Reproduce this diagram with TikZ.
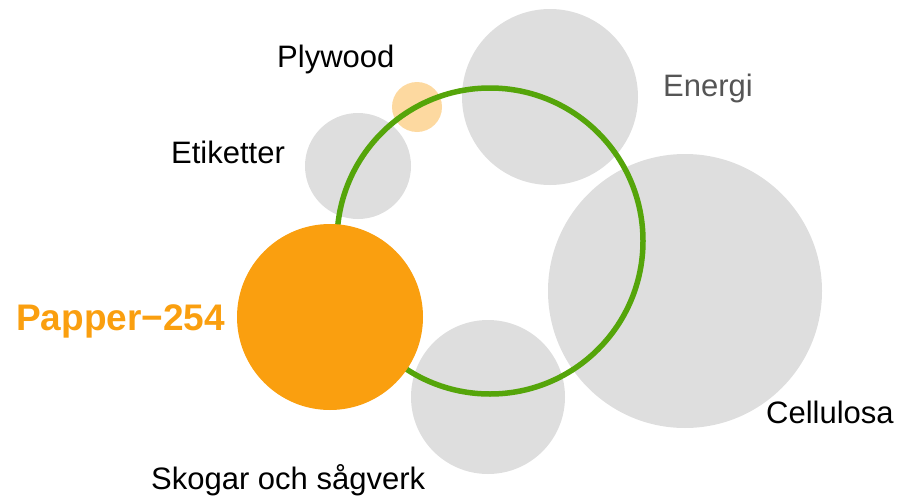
\documentclass[tikz,border=0pt]{standalone}
\usepackage{fontspec}
\setmainfont{Liberation Sans}
\usepackage{xcolor}
\usepackage{tikz}
\usetikzlibrary{shapes}

\definecolor{bubblegray}{HTML}{DEDEDE}
\definecolor{papperorange}{HTML}{FA9F0F}
\definecolor{lightorange}{HTML}{FDD9A0}
\definecolor{ringgreen}{HTML}{55A50A}
\definecolor{labelgray}{HTML}{555555}

\tikzset{
    lbl/.style = {anchor = base west, inner sep = 0pt, font = \fontsize{31}{37}\selectfont},
    biglbl/.style = {lbl, font = \fontsize{37}{43}\selectfont\bfseries, text = papperorange}
}

\begin{document}
\begin{tikzpicture}[x = 1pt, y = -1pt]
            \useasboundingbox (0, 0) rectangle (916, 498);

            % grey bubbles
            \fill[bubblegray] (550, 97) circle (88pt);
            \fill[bubblegray] (685, 291) circle (137pt);
            \fill[bubblegray] (488, 397) circle (77pt);
            \fill[bubblegray] (358, 166) circle (53pt);
            \fill[lightorange] (417, 107) circle (25pt);

            % ring
            \draw[color = ringgreen, line width = 5.5pt] (490, 241) circle (153pt);

            \fill[papperorange] (330, 317) circle (93pt);

            \node[lbl] (plywood) at (277, 67) {Plywood};
            \node[lbl, text = labelgray] (energi) at (663, 96) {Energi};
            \node[lbl] (etiketter) at (171, 163) {Etiketter};
            \node[biglbl] (papper) at (16, 330) {Papper−254};
            \node[lbl] (cellulosa) at (766, 423) {Cellulosa};
            \node[lbl] (skogar) at (151, 489) {Skogar och sågverk};
        \end{tikzpicture}
\end{document}
